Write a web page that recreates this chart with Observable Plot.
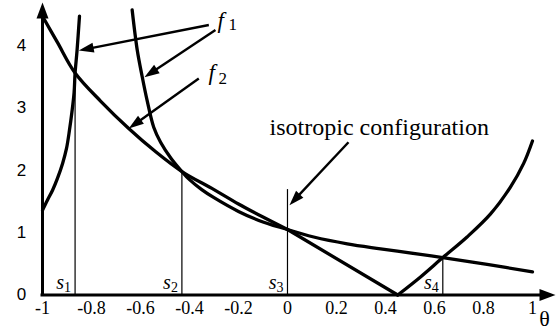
<!DOCTYPE html>
<html>
<head>
<meta charset="utf-8">
<script src="https://cdn.jsdelivr.net/npm/d3@7"></script>
<script src="https://cdn.jsdelivr.net/npm/@observablehq/plot@0.6"></script>
<style>
  html, body { margin: 0; padding: 0; background: #fff; }
  #chart svg { display: block; font-family: "Liberation Serif", serif; }
</style>
</head>
<body>
<div id="chart"></div>
<script>
// f1: performance index, [theta, value] samples per smooth piece
const f1Left  = [[-1.0, 1.36], [-0.98, 1.52], [-0.959, 1.68], [-0.939, 1.87], [-0.918, 2.11],
                 [-0.902, 2.35], [-0.89, 2.64], [-0.88, 2.93], [-0.871, 3.25], [-0.867, 3.56],
                 [-0.859, 3.92], [-0.849, 4.47]];
const f1Mid   = [[-0.634, 4.57], [-0.613, 3.92], [-0.593, 3.50], [-0.573, 3.12], [-0.546, 2.69],
                 [-0.518, 2.45], [-0.475, 2.19], [-0.431, 1.98], [-0.4, 1.85], [-0.35, 1.69],
                 [-0.3, 1.56], [-0.2, 1.34], [-0.1, 1.17], [0.0, 1.05]];
const f1Drop  = [[0.0, 1.05], [0.45, 0.0]];
const f1Rise  = [[0.45, 0.0], [0.543, 0.29], [0.634, 0.60], [0.733, 0.93], [0.829, 1.30],
                 [0.91, 1.73], [0.964, 2.11], [1.0, 2.47]];

// f2: second index
const f2Upper = [[-1.0, 4.47], [-0.939, 4.05], [-0.867, 3.56], [-0.763, 3.11], [-0.648, 2.67],
                 [-0.539, 2.30], [-0.431, 1.98], [-0.3, 1.69], [-0.2, 1.46], [-0.1, 1.25],
                 [0.0, 1.05]];
const f2Lower = [[0.0, 1.05], [0.107, 0.93], [0.244, 0.82], [0.38, 0.74], [0.543, 0.65],
                 [0.634, 0.60], [0.815, 0.49], [1.0, 0.37]];

// special configurations s1..s4 and the height of their marker lines
const sIndex = ["1", "2", "3", "4"];
const sTheta = [-0.867, -0.431, 0.0, 0.634];
const sTop   = [3.56, 1.98, 1.69, 0.60];

// axis ticks
const xTicks = [-1, -0.8, -0.6, -0.4, -0.2, 0, 0.2, 0.4, 0.6, 0.8, 1];
const yTicks = [0, 1, 2, 3, 4];

// callout arrows (tail -> head) in data units
const callouts = [
  {x1: -0.321, y1: 4.33, x2: -0.852, y2: 3.92},
  {x1: -0.294, y1: 4.25, x2: -0.584, y2: 3.49},
  {x1: -0.362, y1: 3.47, x2: -0.648, y2: 2.67},
  {x1: 0.249,  y1: 2.45, x2: 0.008,  y2: 1.44}
];

const X = {domain: [-1, 1.094], range: [42, 555]};
const Y = {domain: [0, 4.69], range: [294.5, 2]};
const sx = Plot.scale({x: X});
const sy = Plot.scale({y: Y});

const SERIF = "Liberation Serif";
const SANS = "Liberation Sans";

const rows = [];
const pieces = {f1a: f1Left, f1b: f1Mid, f1c: f1Drop, f1d: f1Rise, f2a: f2Upper, f2b: f2Lower};
for (const [seg, pts] of Object.entries(pieces)) {
  for (const [t, v] of pts) rows.push({t, v, seg});
}

const sRows = sTheta.map((t, i) => ({t, top: sTop[i], idx: sIndex[i]}));

// filled arrowhead with its tip at the origin, pointing up before rotation
const head = (len, wid) => ({
  draw(ctx) {
    ctx.moveTo(0, 0);
    ctx.lineTo(-wid / 2, len);
    ctx.lineTo(wid / 2, len);
    ctx.closePath();
  }
});
const calloutHead = head(15, 10);
const axisHead = head(16, 12);

const arrows = callouts.map(a => {
  const px1 = sx.apply(a.x1), py1 = sy.apply(a.y1);
  const px2 = sx.apply(a.x2), py2 = sy.apply(a.y2);
  const dx = px2 - px1, dy = py2 - py1, L = Math.hypot(dx, dy);
  return {
    ...a,
    xe: sx.invert(px2 - dx / L * 10),
    ye: sy.invert(py2 - dy / L * 10),
    angle: Math.atan2(dx, -dy) * 180 / Math.PI
  };
});

const xMax = X.domain[1], yMax = Y.domain[1];
const axisTips = [{x: xMax, y: 0, angle: 90}, {x: -1, y: yMax, angle: 0}];

const serifText = {fontFamily: SERIF, fill: "#000"};

const chart = Plot.plot({
  width: 556,
  height: 330,
  x: {...X, axis: null},
  y: {...Y, axis: null},
  style: {background: "#fff", overflow: "visible", fontFamily: SERIF},
  marks: [
    // axes
    Plot.ruleX([-1], {y1: 0, y2: yMax - 0.15, stroke: "#000", strokeWidth: 3, strokeLinecap: "square"}),
    Plot.ruleY([0], {x1: -1, x2: xMax - 0.04, stroke: "#000", strokeWidth: 3, strokeLinecap: "square"}),
    Plot.dot(axisTips, {x: "x", y: "y", rotate: "angle", symbol: axisHead, r: 1, fill: "#000", stroke: "none"}),
    Plot.text(xTicks, {x: d => d, y: 0, text: d => String(d), dy: 13, lineAnchor: "middle",
      fontSize: 18, ...serifText}),
    Plot.text(yTicks, {x: -1, y: d => d, text: d => String(d), dx: -21, lineAnchor: "middle",
      fontSize: 17, fontFamily: SANS, fill: "#000"}),
    Plot.text(["θ"], {x: xMax, y: 0, text: d => d, dx: -11, dy: 31, lineAnchor: "bottom",
      fontSize: 22, ...serifText}),

    // special configuration markers
    Plot.ruleX(sRows, {x: "t", y1: 0, y2: "top", stroke: "#000", strokeWidth: 1.2}),
    Plot.text(sRows, {x: "t", y: 0, text: () => "s", textAnchor: "end", lineAnchor: "bottom",
      dx: -11, dy: -6, fontSize: 20, fontStyle: "italic", ...serifText}),
    Plot.text(sRows, {x: "t", y: 0, text: "idx", textAnchor: "end", lineAnchor: "bottom",
      dx: -4, dy: -3, fontSize: 14, ...serifText}),

    // curves
    Plot.line(rows, {x: "t", y: "v", z: "seg", curve: "catmull-rom", stroke: "#000",
      strokeWidth: 3.3, strokeLinejoin: "round", strokeLinecap: "round"}),

    // callouts
    Plot.link(arrows, {x1: "x1", y1: "y1", x2: "xe", y2: "ye", stroke: "#000", strokeWidth: 2.4}),
    Plot.dot(arrows, {x: "x2", y: "y2", rotate: "angle", symbol: calloutHead, r: 1, fill: "#000", stroke: "none"}),
    Plot.text(["f"], {x: -0.286, y: 4.28, text: d => d, textAnchor: "start", lineAnchor: "bottom",
      fontSize: 23, fontStyle: "italic", ...serifText}),
    Plot.text(["1"], {x: -0.241, y: 4.25, text: d => d, textAnchor: "start", lineAnchor: "bottom",
      fontSize: 17, ...serifText}),
    Plot.text(["f"], {x: -0.322, y: 3.44, text: d => d, textAnchor: "start", lineAnchor: "bottom",
      fontSize: 23, fontStyle: "italic", ...serifText}),
    Plot.text(["2"], {x: -0.282, y: 3.39, text: d => d, textAnchor: "start", lineAnchor: "bottom",
      fontSize: 17, ...serifText}),
    Plot.text(["isotropic configuration"], {x: -0.073, y: 2.56, text: d => d, textAnchor: "start",
      lineAnchor: "bottom", fontSize: 24, ...serifText})
  ]
});

document.getElementById("chart").appendChild(chart);
</script>
</body>
</html>
